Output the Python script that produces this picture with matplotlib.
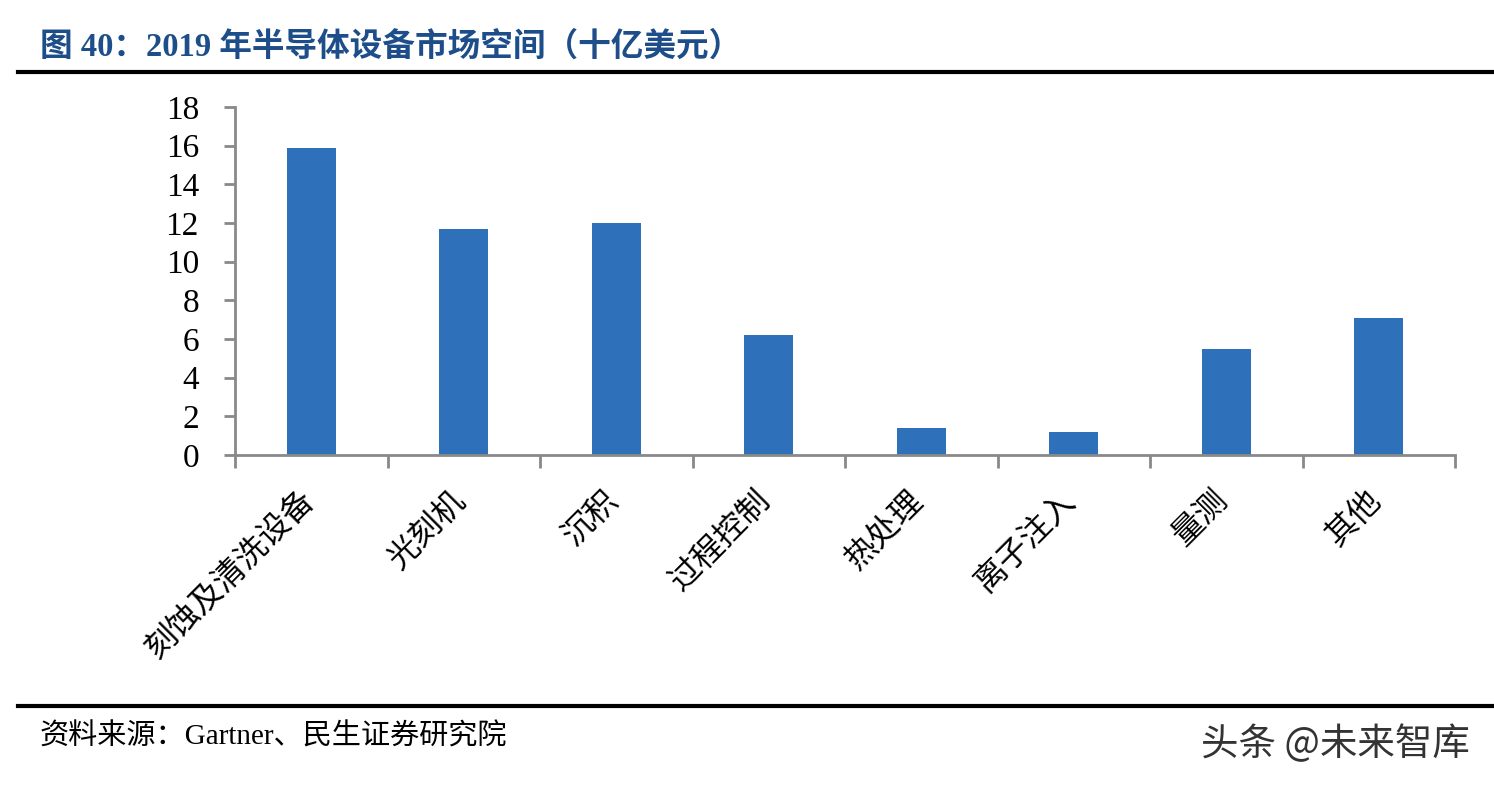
import matplotlib

matplotlib.use("Agg")
import matplotlib.pyplot as plt
from matplotlib.transforms import ScaledTranslation

plt.rcParams["font.family"] = ["Liberation Serif", "Noto Sans CJK SC"]

# 2019 semiconductor equipment market (billion USD)
categories = ["刻蚀及清洗设备", "光刻机", "沉积", "过程控制", "热处理", "离子注入", "量测", "其他"]
values = [15.9, 11.7, 12.0, 6.2, 1.4, 1.2, 5.5, 7.1]
y_ticks = [0, 2, 4, 6, 8, 10, 12, 14, 16, 18]

title = "图 40：2019 年半导体设备市场空间（十亿美元）"
source = "资料来源：Gartner、民生证券研究院"
watermark = "头条 @未来智库"

BAR_COLOR = "#2E71BA"
AXIS_GREY = "#898989"
TITLE_BLUE = "#1D4E89"

fig = plt.figure(figsize=(14.94, 7.88), dpi=100)
ax = fig.add_axes([0.1573, 0.4226, 0.8166, 0.4416])

x = list(range(len(categories)))
ax.bar(x, values, width=0.32, color=BAR_COLOR, zorder=2)

ax.set_xlim(-0.5, len(categories) - 0.5)
ax.set_ylim(0, 18)
ax.set_yticks(y_ticks)
ax.set_yticklabels([str(v) for v in y_ticks], fontsize=24)

# category labels on majors, boundary ticks on minors
ax.set_xticks(x)
ax.set_xticklabels(categories, rotation=45, ha="right", va="top",
                   rotation_mode="anchor", fontsize=23)
ax.set_xticks([i - 0.5 for i in range(len(categories) + 1)], minor=True)
ax.tick_params(axis="x", which="major", length=0, pad=22)
ax.tick_params(axis="x", which="minor", length=9, width=2, color=AXIS_GREY)
ax.tick_params(axis="y", length=8, width=2, color=AXIS_GREY, pad=18)

# nudge rotated labels so their end sits under the bar centre
shift = ScaledTranslation(-9 / 72, 0, fig.dpi_scale_trans)
for lbl in ax.get_xticklabels():
    lbl.set_transform(lbl.get_transform() + shift)

for s in ["top", "right"]:
    ax.spines[s].set_visible(False)
for s in ["left", "bottom"]:
    ax.spines[s].set_color(AXIS_GREY)
    ax.spines[s].set_linewidth(2)

# header / footer
fig.text(40 / 1494, 1 - 47 / 788, title, fontsize=23.5, fontweight="bold",
         color=TITLE_BLUE, ha="left", va="center")
fig.add_artist(plt.Line2D([18 / 1494, 1], [1 - 72 / 788] * 2, color="black", lw=3))
fig.add_artist(plt.Line2D([18 / 1494, 1], [1 - 706 / 788] * 2, color="black", lw=3))
fig.text(40 / 1494, 1 - 737 / 788, source, fontsize=21, color="black",
         ha="left", va="center")
fig.text(1470 / 1494, 1 - 745 / 788, watermark, fontsize=27, color="#333333",
         family=["Noto Sans CJK SC", "DejaVu Sans"], ha="right", va="center")

fig.savefig("out.png", dpi=100)
